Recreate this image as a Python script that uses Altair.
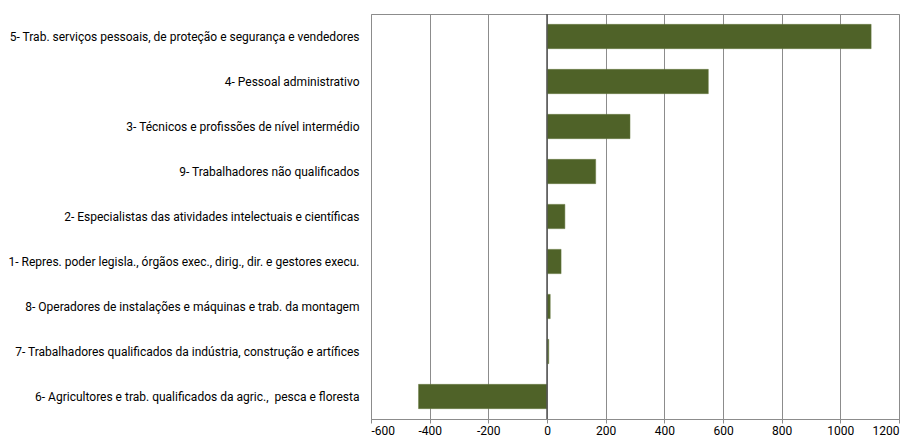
import altair as alt
import pandas as pd

categories = [
    "5- Trab. serviços pessoais, de proteção e segurança e vendedores",
    "4- Pessoal administrativo",
    "3- Técnicos e profissões de nível intermédio",
    "9- Trabalhadores não qualificados",
    "2- Especialistas das atividades intelectuais e científicas",
    "1- Repres. poder legisla., órgãos exec., dirig., dir. e gestores execu.",
    "8- Operadores de instalações e máquinas e trab. da montagem",
    "7- Trabalhadores qualificados da indústria, construção e artífices",
    "6- Agricultores e trab. qualificados da agric.,\u00a0 pesca e floresta",
]
values = [1105, 550, 283, 166, 61, 48, 11, 6, -438]
x_ticks = [-600, -400, -200, 0, 200, 400, 600, 800, 1000, 1200]

df = pd.DataFrame({"cat": categories, "val": values})
FONT = "Roboto"

y_enc = alt.Y("cat:N", sort=categories, title=None,
              scale=alt.Scale(paddingInner=0.46, paddingOuter=0.23),
              axis=alt.Axis(domain=False, ticks=False, grid=False, labelPadding=12,
                            labelFont=FONT, labelFontSize=12, labelColor="#000",
                            labelLimit=400))
x_enc = alt.X("val:Q", title=None,
              scale=alt.Scale(domain=[-600, 1200], nice=False),
              axis=alt.Axis(values=x_ticks, grid=True, gridColor="#8c8c8c",
                            domainColor="#8c8c8c", tickColor="#8c8c8c", tickSize=4,
                            labelFont=FONT, labelFontSize=12, labelColor="#000",
                            labelPadding=2, labelExpr="'' + datum.value"))

bars = alt.Chart(df).mark_bar(color="#4F6228", stroke="#6b7d45", strokeWidth=0.5).encode(
    x=x_enc, y=y_enc)

zero = alt.Chart(pd.DataFrame({"z": [0]})).mark_rule(color="#555555", strokeWidth=1.5).encode(
    x=alt.X("z:Q"))

chart = alt.layer(bars, zero).properties(
    width=898, height=428,
    autosize=alt.AutoSizeParams(type="fit", contains="padding"),
    padding={"left": 0, "top": 5, "right": 6, "bottom": 0}
).configure_view(stroke="#8c8c8c", strokeWidth=1)

chart.save("out.html", embed_options={"renderer": "svg", "actions": False})
